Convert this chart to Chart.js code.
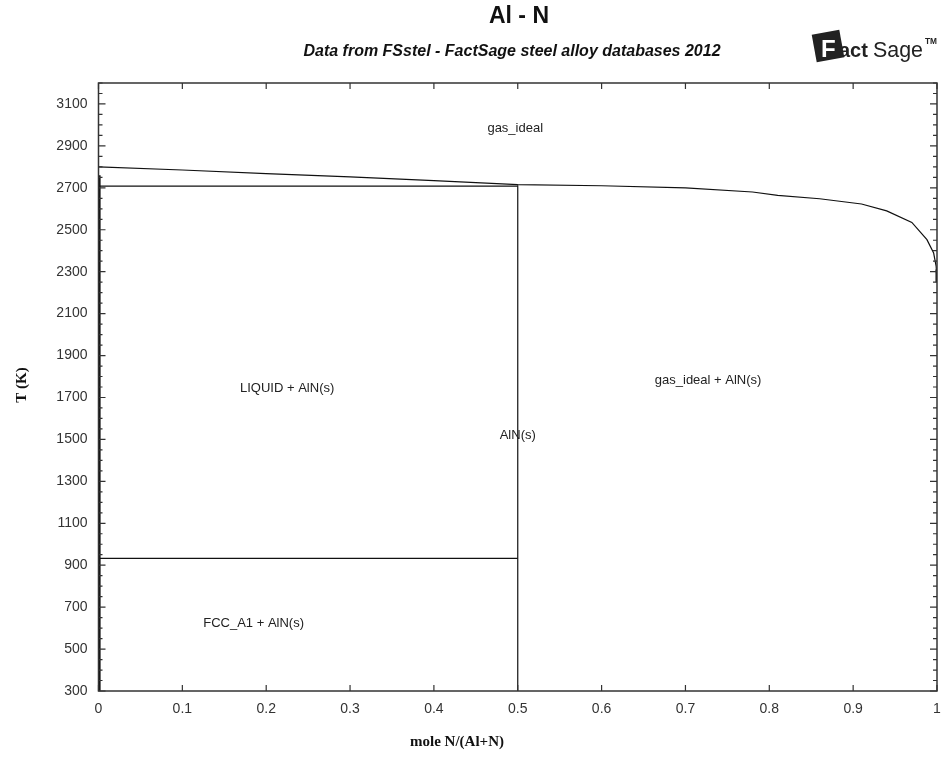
<!DOCTYPE html>
<html>
<head>
<meta charset="utf-8">
<script src="https://cdn.jsdelivr.net/npm/chart.js@4.4.1/dist/chart.umd.min.js"></script>
<style>
  html, body { margin: 0; padding: 0; background: #fff; }
  #wrap { width: 943px; height: 757px; }
</style>
</head>
<body>
<div id="wrap"><canvas id="c" width="943" height="757"></canvas></div>
<script>
// tick labels
const xTicks = [0, 0.1, 0.2, 0.3, 0.4, 0.5, 0.6, 0.7, 0.8, 0.9, 1];
const yTicks = [300, 500, 700, 900, 1100, 1300, 1500, 1700, 1900, 2100, 2300, 2500, 2700, 2900, 3100];

// gas_ideal boundary
const gasX = [0, 0.1, 0.2, 0.3, 0.4, 0.5, 0.6, 0.7, 0.78, 0.81, 0.86, 0.91, 0.94, 0.97, 0.988, 0.996, 0.999, 1.0];
const gasT = [2800, 2785, 2768, 2752, 2734, 2715, 2710, 2700, 2680, 2664, 2648, 2623, 2590, 2535, 2453, 2389, 2325, 2254];

// invariant lines
const liqLineX = [0, 0.5];
const liqLineT = [2708, 2708];
const fccLineX = [0, 0.5];
const fccLineT = [933, 933];
const alnX = [0.5, 0.5];
const alnT = [300, 2712];
const alEdgeX = [0.0012, 0.0012];
const alEdgeT = [300, 2760];
const nEdgeX = [0.9995, 0.9995];
const nEdgeT = [2250, 2310];

// region labels
const labelText = ['gas_ideal', 'LIQUID + AlN(s)', 'gas_ideal + AlN(s)', 'AlN(s)', 'FCC_A1 + AlN(s)'];
const labelX = [0.497, 0.225, 0.727, 0.5, 0.185];
const labelT = [2985, 1745, 1780, 1520, 620];

function pts(xs, ys) { return xs.map((x, i) => ({ x: x, y: ys[i] })); }

function line(xs, ys, w) {
  return { data: pts(xs, ys), showLine: true, borderColor: '#111', borderWidth: w || 1.2,
           pointRadius: 0, tension: 0, fill: false };
}

const decor = {
  id: 'decor',
  afterDraw(chart) {
    const ctx = chart.ctx, a = chart.chartArea;
    const xs = chart.scales.x, ys = chart.scales.y;
    ctx.save();
    // frame
    ctx.strokeStyle = '#333';
    ctx.lineWidth = 1.5;
    ctx.strokeRect(a.left, a.top, a.right - a.left, a.bottom - a.top);
    // ticks
    ctx.lineWidth = 1.2;
    ctx.beginPath();
    xTicks.forEach(v => {
      const px = xs.getPixelForValue(v);
      ctx.moveTo(px, a.bottom); ctx.lineTo(px, a.bottom - 6);
      ctx.moveTo(px, a.top); ctx.lineTo(px, a.top + 6);
    });
    for (let v = 300; v <= 3200; v += 50) {
      const py = ys.getPixelForValue(v);
      const len = (v - 300) % 200 === 0 ? 7 : 4;
      ctx.moveTo(a.left, py); ctx.lineTo(a.left + len, py);
      ctx.moveTo(a.right, py); ctx.lineTo(a.right - len, py);
    }
    ctx.stroke();
    // region labels
    ctx.fillStyle = '#222';
    ctx.font = '13px "Liberation Sans", Arial, sans-serif';
    ctx.textAlign = 'center';
    ctx.textBaseline = 'middle';
    labelText.forEach((t, i) => {
      ctx.fillText(t, xs.getPixelForValue(labelX[i]), ys.getPixelForValue(labelT[i]));
    });
    // titles
    ctx.fillStyle = '#111';
    ctx.font = 'bold 23px "Liberation Sans", Arial, sans-serif';
    ctx.fillText('Al - N', 519, 17, 62);
    ctx.font = 'italic bold 16px "Liberation Sans", Arial, sans-serif';
    ctx.fillText('Data from FSstel - FactSage steel alloy databases 2012', 512, 52, 455);
    // axis titles
    ctx.font = 'bold 15px "Liberation Serif", "Times New Roman", serif';
    ctx.fillText('mole N/(Al+N)', 457, 742);
    ctx.save();
    ctx.translate(22, 385);
    ctx.rotate(-Math.PI / 2);
    ctx.fillText('T (K)', 0, 0);
    ctx.restore();
    // logo: tilted dark square with a white F
    ctx.save();
    ctx.translate(828, 46);
    ctx.rotate(-0.18);
    ctx.fillStyle = '#222';
    ctx.fillRect(-14, -14, 28, 28);
    ctx.restore();
    ctx.textAlign = 'left';
    ctx.textBaseline = 'alphabetic';
    ctx.fillStyle = '#fff';
    ctx.font = 'bold 24px "Liberation Sans", sans-serif';
    ctx.fillText('F', 821, 57);
    ctx.fillStyle = '#222';
    ctx.font = 'bold 20px "Liberation Sans", sans-serif';
    ctx.fillText('act', 839, 57, 34);
    ctx.font = '22px "Liberation Sans Narrow", "Liberation Sans", sans-serif';
    ctx.fillText('Sage', 873, 57, 50);
    ctx.font = 'bold 9px "Liberation Sans", sans-serif';
    ctx.fillText('TM', 925, 44, 12);
    ctx.restore();
  }
};

new Chart(document.getElementById('c'), {
  type: 'scatter',
  data: {
    datasets: [
      line(gasX, gasT),
      line(liqLineX, liqLineT),
      line(fccLineX, fccLineT),
      line(alnX, alnT),
      line(alEdgeX, alEdgeT, 2.2),
      line(nEdgeX, nEdgeT, 2.2)
    ]
  },
  options: {
    responsive: false,
    animation: false,
    events: [],
    layout: { padding: { left: 0, right: 6, top: 83, bottom: 0 } },
    plugins: { legend: { display: false }, tooltip: { enabled: false }, title: { display: false } },
    scales: {
      x: {
        type: 'linear', min: 0, max: 1,
        afterBuildTicks: s => { s.ticks = xTicks.map(v => ({ value: v })); },
        afterFit: s => { s.height = 66; s.paddingLeft = 0; s.paddingRight = 0; },
        grid: { display: false, drawTicks: false },
        border: { display: false },
        ticks: { color: '#333', padding: 10, maxRotation: 0, autoSkip: false,
                 font: { family: '"Liberation Sans", Arial, sans-serif', size: 14 },
                 callback: v => String(v) }
      },
      y: {
        type: 'linear', min: 300, max: 3200,
        afterBuildTicks: s => { s.ticks = yTicks.map(v => ({ value: v })); },
        afterFit: s => { s.width = 98.5; s.paddingTop = 0; s.paddingBottom = 0; },
        grid: { display: false, drawTicks: false },
        border: { display: false },
        ticks: { color: '#333', padding: 11, autoSkip: false,
                 font: { family: '"Liberation Sans", Arial, sans-serif', size: 14 },
                 callback: v => String(v) }
      }
    }
  },
  plugins: [decor]
});
</script>
</body>
</html>
